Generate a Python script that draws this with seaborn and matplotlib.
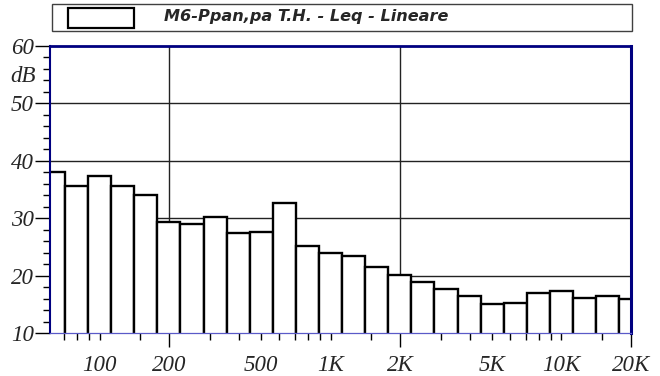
import numpy as np
import pandas as pd
import matplotlib
matplotlib.use("Agg")
import matplotlib.pyplot as plt
import matplotlib.transforms as mtransforms
from matplotlib.patches import Rectangle
from matplotlib.ticker import FixedLocator, NullFormatter, FixedFormatter
import seaborn as sns

# 1/3-octave band centre frequencies (Hz) and measured levels (dB)
bands = [63, 80, 100, 125, 160, 200, 250, 315, 400, 500, 630, 800, 1000,
         1250, 1600, 2000, 2500, 3150, 4000, 5000, 6300, 8000, 10000,
         12500, 16000, 20000]
leq = [38.0, 35.6, 37.4, 35.6, 34.0, 29.4, 29.0, 30.2, 27.5, 27.6, 32.7,
       25.2, 24.0, 23.5, 21.5, 20.1, 18.9, 17.6, 16.5, 15.1, 15.2, 16.9,
       17.3, 16.1, 16.4, 15.9]

y_ticks = [10, 20, 30, 40, 50, 60]
x_tick_values = [100, 200, 500, 1000, 2000, 5000, 10000, 20000]
x_tick_labels = ["100", "200", "500", "1K", "2K", "5K", "10K", "20K"]
x_minor_values = [70, 80, 90, 150, 300, 400, 600, 700, 800, 900,
                  1500, 3000, 4000, 6000, 7000, 8000, 9000, 15000]
x_long_ticks = [200, 2000, 20000]
series_label = "M6-Ppan,pa T.H. - Leq - Lineare"
unit_label = "dB"

sns.set_theme(style="ticks")
plt.rcParams["font.family"] = ["Liberation Serif", "DejaVu Serif"]

W, H = 660, 376
fig = plt.figure(figsize=(W / 100, H / 100), dpi=100)
ax_l, ax_r, ax_t, ax_b = 50, 631, 46, 333
ax = fig.add_axes([ax_l / W, 1 - ax_b / H, (ax_r - ax_l) / W, (ax_b - ax_t) / H])

df = pd.DataFrame({"freq": bands, "leq": leq})

# band edges in log10 units: each third-octave spans 1/10 decade
band_idx = np.round(10 * np.log10(df["freq"].to_numpy()))
log_edges = list(np.append(band_idx - 0.5, band_idx[-1] + 0.5) / 10)

sns.histplot(data=df, x="freq", weights="leq", bins=log_edges, log_scale=True,
             ax=ax, element="bars", fill=True, color="white",
             edgecolor="black", linewidth=1.7, alpha=1, zorder=2)

ax.set_xlim(61, 20000)
ax.set_ylim(10, 60)
ax.set_xlabel("")
ax.set_ylabel("")

# grid
for yv in [20, 30, 40, 50]:
    ax.axhline(yv, color="#222222", lw=1.0, zorder=0.5)
for xv in [200, 2000]:
    ax.axvline(xv, color="#222222", lw=1.0, zorder=0.5)

# x ticks
ax.xaxis.set_major_locator(FixedLocator(x_tick_values))
ax.xaxis.set_major_formatter(FixedFormatter(x_tick_labels))
ax.xaxis.set_minor_locator(FixedLocator(x_minor_values))
ax.xaxis.set_minor_formatter(NullFormatter())
ax.tick_params(axis="x", which="both", direction="out", length=5, width=1,
               color="black", pad=11, bottom=True)
for t, v in zip(ax.xaxis.get_major_ticks(), x_tick_values):
    if v in x_long_ticks:
        t.tick1line.set_markersize(10)
for lab in ax.get_xticklabels():
    lab.set_fontstyle("italic")
    lab.set_fontsize(16.5)

# y ticks
ax.yaxis.set_major_locator(FixedLocator(y_ticks))
ax.yaxis.set_minor_locator(FixedLocator(list(range(12, 60, 2))))
ax.tick_params(axis="y", which="major", direction="out", length=11, width=1,
               color="black", pad=0.5, left=True, labelsize=16.5)
ax.tick_params(axis="y", which="minor", direction="out", length=5, width=1,
               color="black", left=True)
for lab in ax.get_yticklabels():
    lab.set_fontstyle("italic")

trans = mtransforms.blended_transform_factory(fig.transFigure, ax.transData)
ax.text(35.5 / W, 54.7, unit_label, transform=trans, ha="right", va="center",
        fontsize=16.5, fontstyle="italic")

# frame
navy = "#000080"
ax.spines["left"].set_color(navy)
ax.spines["left"].set_linewidth(1.5)
ax.spines["top"].set_color(navy)
ax.spines["top"].set_linewidth(2.0)
ax.spines["right"].set_color(navy)
ax.spines["right"].set_linewidth(2.2)
ax.spines["bottom"].set_color("#5a5ac8")
ax.spines["bottom"].set_linewidth(0.9)
for s in ax.spines.values():
    s.set_visible(True)
    s.set_zorder(3)

# legend box
fig.patches.append(Rectangle((52 / W, 1 - 31 / H), 580 / W, 27 / H,
                             transform=fig.transFigure, facecolor="white",
                             edgecolor="#404040", lw=1.0))
fig.patches.append(Rectangle((68 / W, 1 - 28 / H), 66 / W, 20 / H,
                             transform=fig.transFigure, facecolor="white",
                             edgecolor="black", lw=1.6))
fig.text(164 / W, 1 - 16.5 / H, series_label, ha="left", va="center",
         fontsize=11.6, fontweight="bold", fontstyle="italic",
         family=["DejaVu Sans"])

fig.savefig("out.png", dpi=100, facecolor="white")
